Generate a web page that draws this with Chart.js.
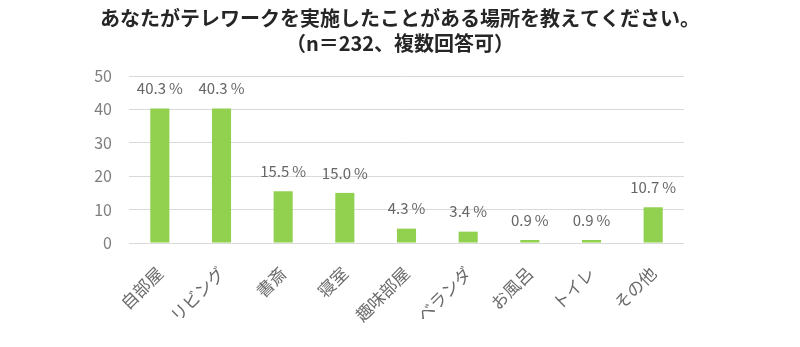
<!DOCTYPE html>
<html>
<head>
<meta charset="utf-8">
<script src="https://cdn.jsdelivr.net/npm/chart.js@4"></script>
<style>
  html, body { margin: 0; padding: 0; background: #fff; }
  #wrap { width: 800px; height: 347px; }
</style>
</head>
<body>
<div id="wrap"><canvas id="place-chart" width="800" height="347"></canvas></div>
<script>
var titleLines = ['あなたがテレワークを実施したことがある場所を教えてください。', '（n＝232、複数回答可）'];
var places = ['自部屋', 'リビング', '書斎', '寝室', '趣味部屋', 'ベランダ', 'お風呂', 'トイレ', 'その他'];
var shares = [40.3, 40.3, 15.5, 15.0, 4.3, 3.4, 0.9, 0.9, 10.7];
var yTicks = [0, 10, 20, 30, 40, 50];

var FONT = '"Noto Sans CJK JP", "Noto Sans", sans-serif';

// percent labels above each bar
var valueLabels = {
  id: 'valueLabels',
  afterDatasetsDraw: (chart) => {
    const ctx = chart.ctx;
    const meta = chart.getDatasetMeta(0);
    ctx.save();
    ctx.font = '15px ' + FONT;
    ctx.fillStyle = '#666666';
    ctx.textAlign = 'center';
    ctx.textBaseline = 'middle';
    meta.data.forEach((bar, i) => {
      ctx.fillText(shares[i].toFixed(1) + '\u2009%', bar.x, bar.y - 20);
    });
    ctx.restore();
  }
};

var ctx = document.getElementById('place-chart').getContext('2d');
var chart = new Chart(ctx, {
  type: 'bar',
  data: {
    labels: places,
    datasets: [{
      label: '割合',
      data: shares,
      backgroundColor: '#92D050',
      borderWidth: 0,
      barPercentage: 0.31,
      categoryPercentage: 1.0
    }]
  },
  plugins: [valueLabels],
  options: {
    responsive: false,
    animation: false,
    layout: { padding: 0 },
    plugins: {
      legend: { display: false },
      tooltip: { enabled: false },
      title: {
        display: true,
        text: titleLines,
        color: '#262626',
        font: { family: FONT, size: 20, weight: 'bold', lineHeight: 1.25 },
        padding: { top: 6, bottom: 20 }
      }
    },
    scales: {
      x: {
        grid: { display: false },
        border: { display: false },
        ticks: {
          color: '#6b6b6b',
          font: { family: FONT, size: 17 },
          minRotation: 45,
          maxRotation: 45,
          padding: 12
        },
        afterFit: (scale) => { scale.height = 104; }
      },
      y: {
        min: 0,
        max: 50,
        afterBuildTicks: (scale) => { scale.ticks = yTicks.map(v => ({ value: v })); },
        grid: { color: '#d9d9d9', lineWidth: 1, drawTicks: false },
        border: { display: false },
        ticks: {
          color: '#7f7f7f',
          font: { family: FONT, size: 16 },
          padding: 17
        },
        afterFit: (scale) => { scale.width = 129; }
      },
      // empty right-hand margin so the title stays centred on the page
      yRight: {
        position: 'right',
        min: 0,
        max: 50,
        grid: { display: false },
        border: { display: false },
        ticks: { display: false },
        afterFit: (scale) => { scale.width = 116; }
      }
    }
  }
});
</script>
</body>
</html>
